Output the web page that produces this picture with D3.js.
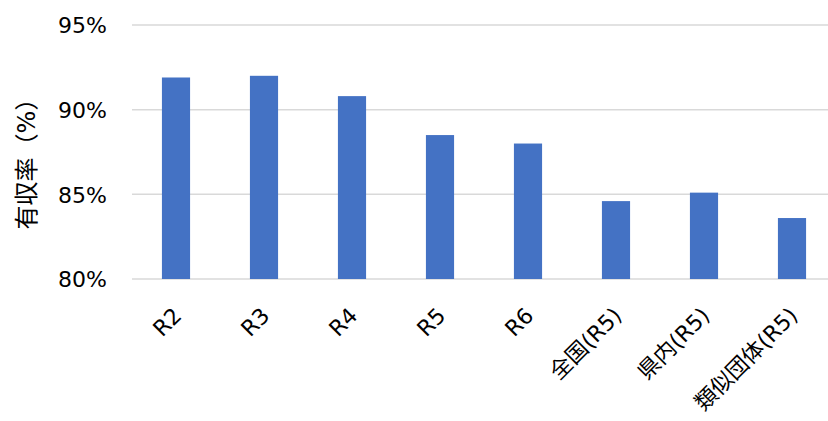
<!DOCTYPE html>
<html lang="ja">
<head>
<meta charset="utf-8">
<style>
  body { margin: 0; background: #fff; }
  text { font-family: "DejaVu Sans", "Noto Sans CJK JP", sans-serif; fill: #000; }
</style>
</head>
<body>
<svg id="chart" width="828" height="421"></svg>
<script src="https://cdn.jsdelivr.net/npm/d3@7"></script>
<script>
var categories = ["R2", "R3", "R4", "R5", "R6", "全国(R5)", "県内(R5)", "類似団体(R5)"];
var values = [91.9, 92.0, 90.8, 88.5, 88.0, 84.6, 85.1, 83.6];
var yTicks = [80, 85, 90, 95];
var yTitle = "有収率（%）";

var svg = d3.select("#chart");

var x = d3.scaleBand()
    .domain(categories)
    .range([132, 836])
    .paddingInner(0.68)
    .paddingOuter(0.34);

var y = d3.scaleLinear()
    .domain([80, 95])
    .range([279, 25]);

// gridlines
svg.append("g")
    .selectAll("line")
    .data(yTicks)
    .enter()
    .append("line")
    .attr("x1", 132)
    .attr("x2", 828)
    .attr("y1", function(d){ return y(d); })
    .attr("y2", function(d){ return y(d); })
    .attr("stroke", "#d9d9d9")
    .attr("stroke-width", 1.5);

// bars
svg.append("g")
    .selectAll("rect")
    .data(values)
    .enter()
    .append("rect")
    .attr("x", function(d, i){ return x(categories[i]); })
    .attr("width", x.bandwidth())
    .attr("y", function(d){ return y(d); })
    .attr("height", function(d){ return y(80) - y(d); })
    .attr("fill", "#4472c4");

// y axis labels
var yAxis = svg.append("g")
    .attr("transform", "translate(107,0)")
    .call(d3.axisLeft(y).tickValues(yTicks).tickSize(0).tickPadding(0)
        .tickFormat(function(d){ return d + "%"; }));
yAxis.select(".domain").remove();
yAxis.selectAll("text")
    .attr("font-size", 22)
    .attr("dy", "0.35em")
    .style("font-family", '"DejaVu Sans", "Noto Sans CJK JP", sans-serif');

// x labels
svg.append("g")
    .selectAll("text")
    .data(categories)
    .enter()
    .append("text")
    .attr("text-anchor", "end")
    .attr("font-size", 22)
    .attr("transform", function(d){
        var cx = x(d) + x.bandwidth() / 2 + 7;
        return "translate(" + cx + ",317) rotate(-45)";
    })
    .text(function(d){ return d; });

// y title
svg.append("text")
    .attr("text-anchor", "middle")
    .attr("font-size", 24)
    .attr("transform", "translate(35,158) rotate(-90)")
    .text(yTitle);
</script>
</body>
</html>
